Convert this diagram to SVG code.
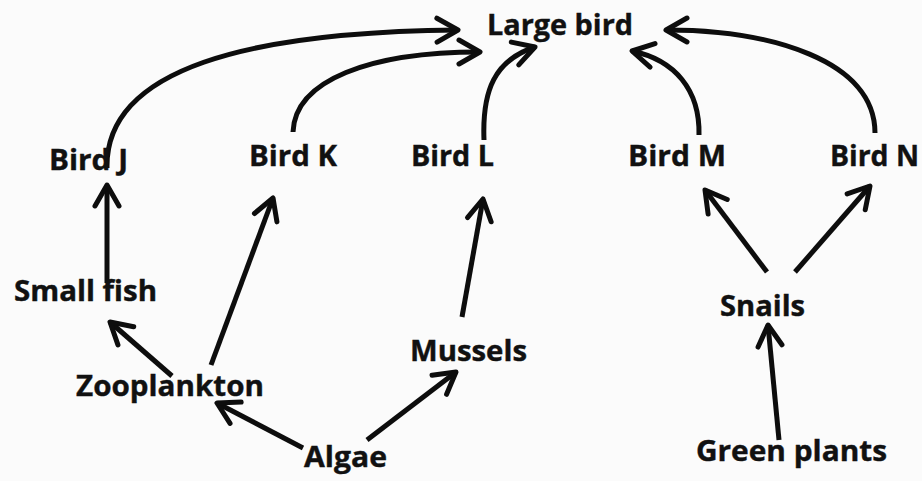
<svg xmlns="http://www.w3.org/2000/svg" width="922" height="481" viewBox="0 0 922 481">
<defs>
<style>
.lbl{font-family:"Open Sans","Liberation Sans",sans-serif;font-weight:bold;font-size:28px;fill:#111;stroke:#111;stroke-width:0.4}
.edge{fill:none;stroke:#0d0d0d;stroke-width:5;stroke-linecap:butt;marker-end:url(#arr)}
</style>
<marker id="arr" markerUnits="userSpaceOnUse" viewBox="-28 -18 34 36" refX="0" refY="0" markerWidth="34" markerHeight="36" orient="auto" overflow="visible">
<path d="M-21,-12 L0,0 L-21,12" fill="none" stroke="#0d0d0d" stroke-width="5" stroke-linecap="round" stroke-linejoin="round"/>
</marker>
</defs>
<rect x="0" y="0" width="922" height="481" fill="#fbfbfb"/>
<g id="connectors">
<path class="edge" d="M107,168 C105,68 250,32 458,30"/>
<path class="edge" d="M293,132 C295,80 370,52 480,52"/>
<path class="edge" d="M484,140 C482,90 495,60 535,47"/>
<path class="edge" d="M699,135 C700,90 675,60 632,51"/>
<path class="edge" d="M875,133 C875,60 770,30 666,30"/>
<path class="edge" d="M107,283 L107,185"/>
<path class="edge" d="M172,376 L110,322"/>
<path class="edge" d="M211,365 L273,198"/>
<path class="edge" d="M303,448 L217,403"/>
<path class="edge" d="M367,440 L456,372"/>
<path class="edge" d="M462,317 L483,199"/>
<path class="edge" d="M767,272 L705,190"/>
<path class="edge" d="M795,272 L870,186"/>
<path class="edge" d="M779,440 L768,325"/>
</g>
<g id="large-bird"><text class="lbl" x="487" y="35" textLength="146" lengthAdjust="spacingAndGlyphs">Large bird</text></g>
<g id="bird-j"><text class="lbl" x="49" y="170" textLength="79" lengthAdjust="spacingAndGlyphs">Bird J</text></g>
<g id="bird-k"><text class="lbl" x="249" y="166" textLength="88" lengthAdjust="spacingAndGlyphs">Bird K</text></g>
<g id="bird-l"><text class="lbl" x="411" y="166" textLength="83" lengthAdjust="spacingAndGlyphs">Bird L</text></g>
<g id="bird-m"><text class="lbl" x="628" y="166" textLength="98" lengthAdjust="spacingAndGlyphs">Bird M</text></g>
<g id="bird-n"><text class="lbl" x="830" y="166" textLength="89" lengthAdjust="spacingAndGlyphs">Bird N</text></g>
<g id="small-fish"><text class="lbl" x="14" y="301" textLength="143" lengthAdjust="spacingAndGlyphs">Small fish</text></g>
<g id="zooplankton"><text class="lbl" x="76" y="396" textLength="188" lengthAdjust="spacingAndGlyphs">Zooplankton</text></g>
<g id="mussels"><text class="lbl" x="410" y="361" textLength="117" lengthAdjust="spacingAndGlyphs">Mussels</text></g>
<g id="snails"><text class="lbl" x="720" y="316" textLength="85" lengthAdjust="spacingAndGlyphs">Snails</text></g>
<g id="algae"><text class="lbl" x="304" y="467" textLength="83" lengthAdjust="spacingAndGlyphs">Algae</text></g>
<g id="green-plants"><text class="lbl" x="696" y="461" textLength="191" lengthAdjust="spacingAndGlyphs">Green plants</text></g>
</svg>
